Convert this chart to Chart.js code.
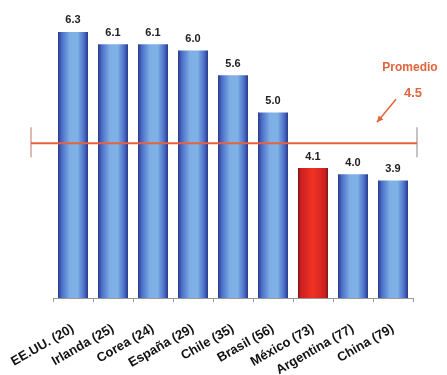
<!DOCTYPE html>
<html>
<head>
<meta charset="utf-8">
<script src="https://cdn.jsdelivr.net/npm/chart.js@4.4.1/dist/chart.umd.min.js"></script>
<style>
html,body{margin:0;padding:0;background:#fff;}
#wrap{width:447px;height:375px;position:relative;}
</style>
</head>
<body>
<div id="wrap"><canvas id="c" width="447" height="375"></canvas></div>
<script>
const categories = ["EE.UU. (20)", "Irlanda (25)", "Corea (24)", "España (29)", "Chile (35)", "Brasil (56)", "México (73)", "Argentina (77)", "China (79)"];
const values = [6.3, 6.1, 6.1, 6.0, 5.6, 5.0, 4.1, 4.0, 3.9];
const highlightIndex = [6];
const averageValue = 4.5;
const averageLabel = "Promedio";
const yMin = 2;
const yMax = 6.8;

function barFill(context) {
  const chart = context.chart;
  const xs = chart.scales && chart.scales.x;
  const i = context.dataIndex;
  const red = highlightIndex.includes(i);
  if (!xs || !chart.chartArea) return red ? '#d42020' : '#4a78d0';
  const cx = xs.getPixelForValue(i);
  const half = 15;
  const g = chart.ctx.createLinearGradient(cx - half, 0, cx + half, 0);
  if (red) {
    g.addColorStop(0, '#7a1818');
    g.addColorStop(0.1, '#cc2020');
    g.addColorStop(0.5, '#f03324');
    g.addColorStop(0.9, '#cc2020');
    g.addColorStop(1, '#7a1818');
  } else {
    g.addColorStop(0, '#2c3888');
    g.addColorStop(0.12, '#4a6cc6');
    g.addColorStop(0.4, '#7eafe6');
    g.addColorStop(0.65, '#80b2e6');
    g.addColorStop(0.88, '#4a6cc6');
    g.addColorStop(1, '#2c3888');
  }
  return g;
}

const valueLabels = {
  id: 'valueLabels',
  afterDatasetsDraw(chart) {
    const ctx = chart.ctx;
    const meta = chart.getDatasetMeta(0);
    ctx.save();
    ctx.font = 'bold 11px "Liberation Sans", Arial, sans-serif';
    ctx.fillStyle = '#222';
    ctx.textAlign = 'center';
    ctx.textBaseline = 'bottom';
    meta.data.forEach((bar, i) => {
      ctx.fillText(values[i].toFixed(1), bar.x, bar.y - 6);
    });
    ctx.restore();
  }
};

const averageLine = {
  id: 'averageLine',
  afterDatasetsDraw(chart) {
    const ctx = chart.ctx;
    const ys = chart.scales.y;
    const area = chart.chartArea;
    const y = ys.getPixelForValue(averageValue);
    const x0 = area.left - 22;
    const x1 = area.right + 4;
    ctx.save();
    ctx.strokeStyle = '#c98a80';
    ctx.lineWidth = 1.2;
    ctx.beginPath();
    ctx.moveTo(x0, y - 16); ctx.lineTo(x0, y + 14);
    ctx.stroke();
    ctx.strokeStyle = '#9a9a9a';
    ctx.beginPath();
    ctx.moveTo(x1, y - 16); ctx.lineTo(x1, y + 14);
    ctx.stroke();
    ctx.strokeStyle = '#e8603c';
    ctx.lineWidth = 2;
    ctx.beginPath();
    ctx.moveTo(x0, y); ctx.lineTo(x1, y);
    ctx.stroke();
    ctx.fillStyle = '#e0643c';
    ctx.font = 'bold 12px "Liberation Sans", Arial, sans-serif';
    ctx.textAlign = 'center';
    ctx.textBaseline = 'middle';
    ctx.fillText(averageLabel, x1 - 7, y - 76);
    ctx.font = 'bold 13px "Liberation Sans", Arial, sans-serif';
    ctx.fillText(averageValue.toFixed(1), x1 - 4, y - 50);
    const ax0 = x1 - 21, ay0 = y - 44, ax1 = x1 - 40, ay1 = y - 21;
    ctx.strokeStyle = '#e0643c';
    ctx.lineWidth = 1.5;
    ctx.beginPath();
    ctx.moveTo(ax0, ay0); ctx.lineTo(ax1, ay1);
    ctx.stroke();
    const ang = Math.atan2(ay1 - ay0, ax1 - ax0);
    ctx.beginPath();
    ctx.moveTo(ax1, ay1);
    ctx.lineTo(ax1 - 7 * Math.cos(ang - 0.45), ay1 - 7 * Math.sin(ang - 0.45));
    ctx.lineTo(ax1 - 7 * Math.cos(ang + 0.45), ay1 - 7 * Math.sin(ang + 0.45));
    ctx.closePath();
    ctx.fillStyle = '#e0643c';
    ctx.fill();
    ctx.restore();
  }
};

new Chart(document.getElementById('c'), {
  type: 'bar',
  data: {
    labels: categories,
    datasets: [{
      data: values,
      backgroundColor: barFill,
      borderWidth: 0,
      barPercentage: 0.75,
      categoryPercentage: 1.0
    }]
  },
  options: {
    responsive: false,
    animation: false,
    devicePixelRatio: 1,
    layout: { padding: { left: 53, right: 34, top: 1, bottom: 0 } },
    plugins: { legend: { display: false }, tooltip: { enabled: false } },
    scales: {
      x: {
        offset: true,
        afterFit(scale) {
          scale.height = 77;
          scale.paddingLeft = 0;
          scale.paddingRight = 0;
        },
        grid: { display: true, offset: true, drawOnChartArea: false, drawTicks: true, tickLength: 4, color: '#999' },
        border: { display: true, color: '#999', width: 1 },
        ticks: {
          autoSkip: false,
          maxRotation: 30,
          minRotation: 30,
          padding: 19,
          color: '#111',
          font: { family: '"Liberation Sans", Arial, sans-serif', size: 13, weight: 'bold' }
        }
      },
      y: {
        display: false,
        min: yMin,
        max: yMax
      }
    }
  },
  plugins: [valueLabels, averageLine]
});
</script>
</body>
</html>
